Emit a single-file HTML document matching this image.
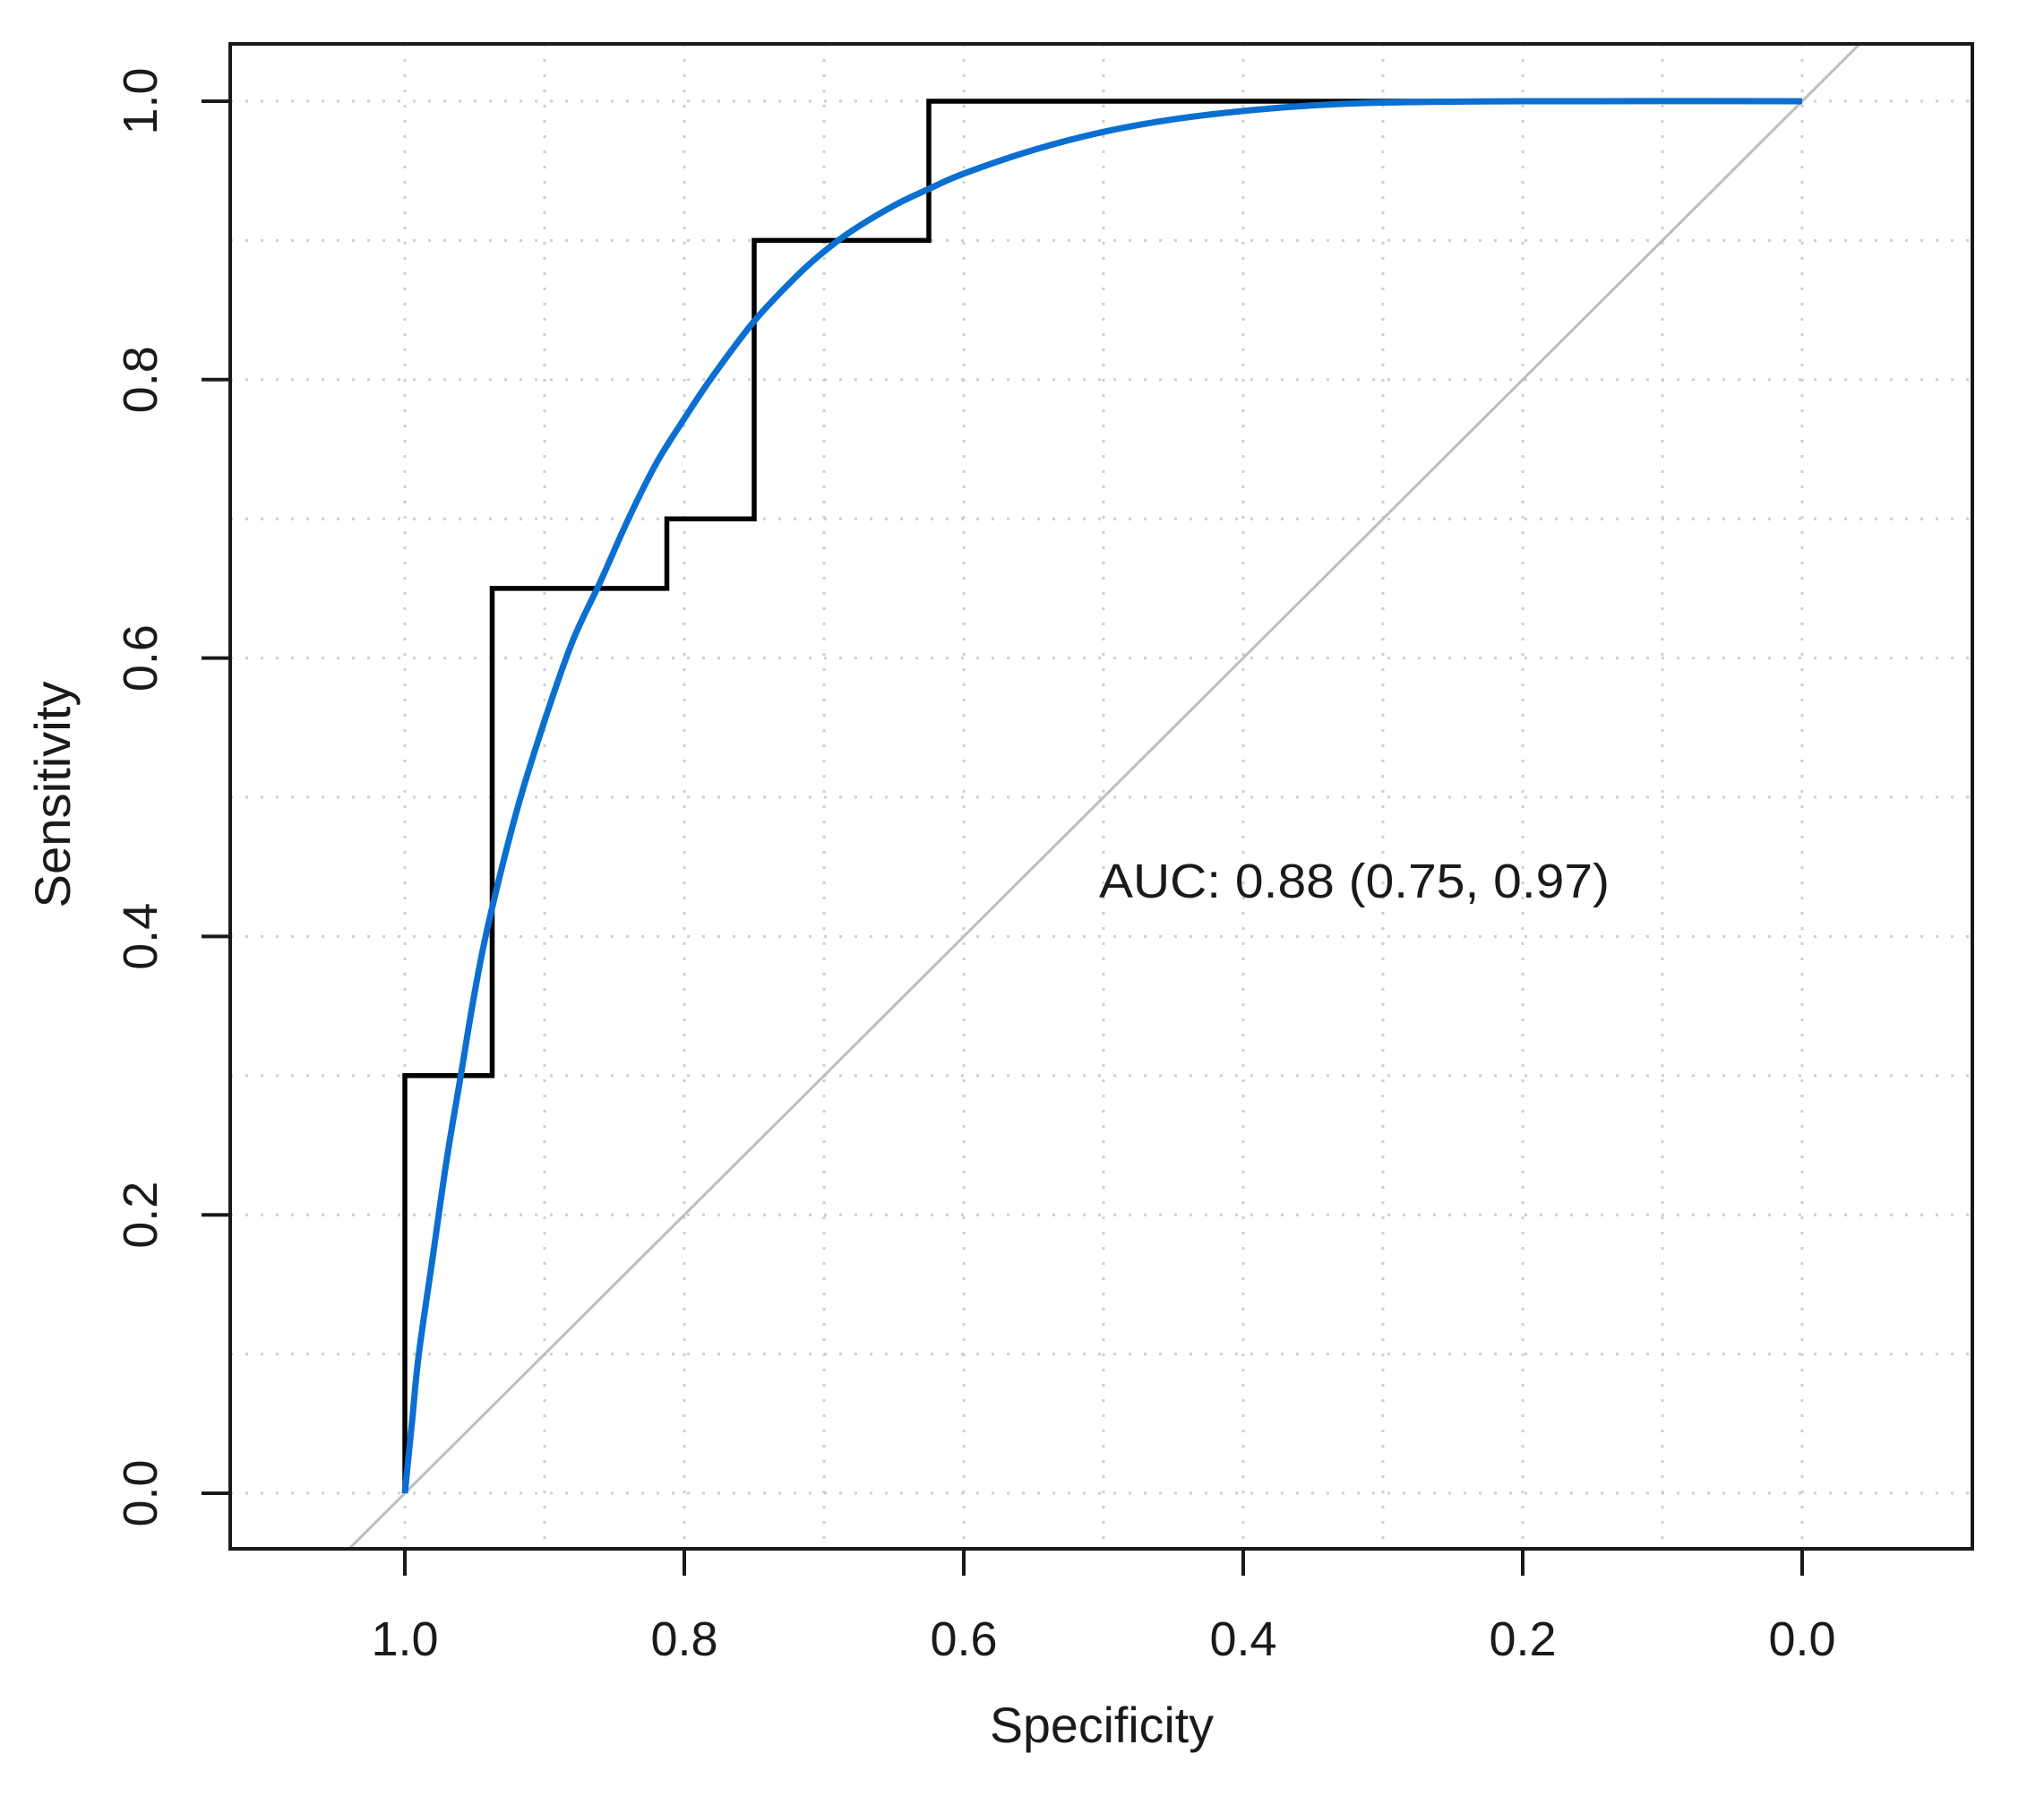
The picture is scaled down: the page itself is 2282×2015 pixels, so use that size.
<!DOCTYPE html>
<html><head><meta charset="utf-8"><style>
html,body{margin:0;padding:0;background:#fff;}
svg{display:block;}
text{font-family:"Liberation Sans",Arial,sans-serif;fill:#1a1a1a;}
</style></head><body>
<svg id="chart" width="2282" height="2015" viewBox="0 0 2282 2015" xmlns="http://www.w3.org/2000/svg">
<g id="grid"></g>
<g id="plot"></g>
<rect x="257" y="49" width="1945" height="1680" fill="none" stroke="#1a1a1a" stroke-width="4"/>
<g id="axes"></g>
<text x="1227" y="1002" font-size="54" textLength="570" lengthAdjust="spacingAndGlyphs">AUC: 0.88 (0.75, 0.97)</text>
<text x="1230" y="1945" font-size="56" text-anchor="middle" textLength="250" lengthAdjust="spacingAndGlyphs">Specificity</text>
<text transform="translate(78,887) rotate(-90)" font-size="56" text-anchor="middle" textLength="253" lengthAdjust="spacingAndGlyphs">Sensitivity</text>
</svg>
<script>
const xTicks = [1.0, 0.8, 0.6, 0.4, 0.2, 0.0];
const xTickLabels = ["1.0", "0.8", "0.6", "0.4", "0.2", "0.0"];
const yTicks = [0.0, 0.2, 0.4, 0.6, 0.8, 1.0];
const yTickLabels = ["0.0", "0.2", "0.4", "0.6", "0.8", "1.0"];
const gridValues = [0, 0.1, 0.2, 0.3, 0.4, 0.5, 0.6, 0.7, 0.8, 0.9, 1.0];
const stepSpec = [1, 1, 0.9375, 0.9375, 0.8125, 0.8125, 0.75, 0.75, 0.625, 0.625, 0.125];
const stepSens = [0, 0.3, 0.3, 0.65, 0.65, 0.7, 0.7, 0.9, 0.9, 1.0, 1.0];
const smoothSpec = [1, 0.995, 0.99, 0.98, 0.97, 0.96, 0.95, 0.94, 0.92, 0.90, 0.88, 0.86, 0.84, 0.82, 0.80, 0.78, 0.75, 0.72, 0.70, 0.68, 0.65, 0.625, 0.60, 0.55, 0.50, 0.45, 0.40, 0.35, 0.30, 0.20, 0];
const smoothSens = [0, 0.05, 0.10, 0.17, 0.24, 0.30, 0.36, 0.41, 0.49, 0.555, 0.612, 0.655, 0.70, 0.74, 0.772, 0.802, 0.842, 0.874, 0.892, 0.907, 0.925, 0.937, 0.948, 0.965, 0.978, 0.987, 0.993, 0.997, 0.999, 1.0, 1.0];

const NS = "http://www.w3.org/2000/svg";
const X0 = 2012, XU = 1560, Y0 = 1667, YU = 1554;
const L = 257, R = 2202, T = 49, B = 1729;
function sx(v){ return X0 - v * XU; }
function sy(v){ return Y0 - v * YU; }
function mk(tag, attrs, parent){
  const e = document.createElementNS(NS, tag);
  for (const k in attrs) e.setAttribute(k, attrs[k]);
  parent.appendChild(e);
  return e;
}
const grid = document.getElementById('grid');
const plot = document.getElementById('plot');
const axes = document.getElementById('axes');

gridValues.forEach(v => {
  const gx = mk('line', {x1: sx(v), x2: sx(v), y1: T, y2: B, stroke: '#cfcfcf', 'stroke-width': 3, 'stroke-dasharray': '3 14'}, grid);
  
  
  const gy = mk('line', {x1: L, x2: R, y1: sy(v), y2: sy(v), stroke: '#cfcfcf', 'stroke-width': 3, 'stroke-dasharray': '3 14'}, grid);
  
  
});

const defs = mk('defs', {}, plot);
const cp = mk('clipPath', {id: 'clip'}, defs);
mk('rect', {x: L, y: T, width: R - L, height: B - T}, cp);
const diag = mk('line', {x1: sx(1.2), y1: sy(-0.2), x2: sx(-0.2), y2: sy(1.2), stroke: '#bdbdbd', 'stroke-width': 3, 'clip-path': 'url(#clip)'}, plot);



let d = '';
stepSpec.forEach((s, i) => { d += (i ? 'L' : 'M') + sx(s) + ',' + sy(stepSens[i]); });
const step = mk('path', {d: d, fill: 'none', stroke: '#000', 'stroke-width': 5.5, 'stroke-linejoin': 'miter'}, plot);



const pts = smoothSpec.map((s, i) => [sx(s), sy(smoothSens[i])]);
let sd = 'M' + pts[0][0] + ',' + pts[0][1];
for (let i = 0; i < pts.length - 1; i++) {
  const p0 = pts[Math.max(0, i - 1)], p1 = pts[i], p2 = pts[i + 1], p3 = pts[Math.min(pts.length - 1, i + 2)];
  const c1 = [p1[0] + (p2[0] - p0[0]) / 6, p1[1] + (p2[1] - p0[1]) / 6];
  const c2 = [p2[0] - (p3[0] - p1[0]) / 6, p2[1] - (p3[1] - p1[1]) / 6];
  sd += 'C' + c1[0] + ',' + c1[1] + ' ' + c2[0] + ',' + c2[1] + ' ' + p2[0] + ',' + p2[1];
}
const smooth = mk('path', {d: sd, fill: 'none', stroke: '#0a6fd0', 'stroke-width': 7}, plot);



xTicks.forEach((v, i) => {
  const t = mk('line', {x1: sx(v), x2: sx(v), y1: B, y2: B + 30, stroke: '#1a1a1a', 'stroke-width': 4}, axes);
  
  
  const lb = mk('text', {x: sx(v), y: 1848, 'font-size': 54, 'text-anchor': 'middle'}, axes);
  lb.textContent = xTickLabels[i];
  
  
});
yTicks.forEach((v, i) => {
  const t = mk('line', {x1: L - 32, x2: L, y1: sy(v), y2: sy(v), stroke: '#1a1a1a', 'stroke-width': 4}, axes);
  
  
  const lb = mk('text', {transform: 'translate(175,' + sy(v) + ') rotate(-90)', 'font-size': 54, 'text-anchor': 'middle'}, axes);
  lb.textContent = yTickLabels[i];
  
  
});
</script>
</body></html>
